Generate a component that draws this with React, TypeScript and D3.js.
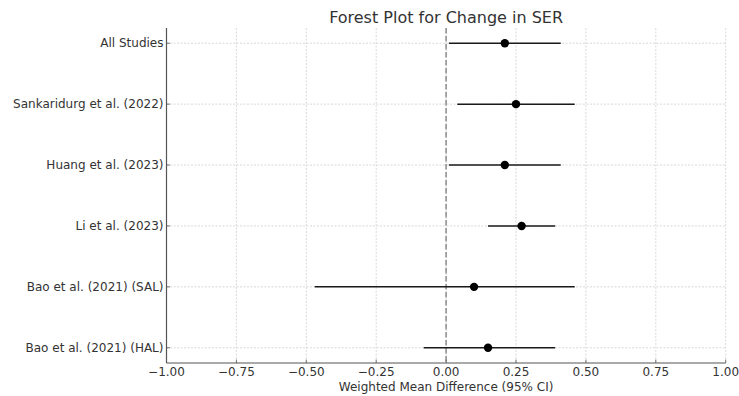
import { useEffect, useRef } from "react";
import * as d3 from "d3";

const studies = [
  "All Studies",
  "Sankaridurg et al. (2022)",
  "Huang et al. (2023)",
  "Li et al. (2023)",
  "Bao et al. (2021) (SAL)",
  "Bao et al. (2021) (HAL)",
];
const means = [0.21, 0.25, 0.21, 0.27, 0.1, 0.15];
const lower = [0.01, 0.04, 0.01, 0.15, -0.47, -0.08];
const upper = [0.41, 0.46, 0.41, 0.39, 0.46, 0.39];
const xTicks = [-1, -0.75, -0.5, -0.25, 0, 0.25, 0.5, 0.75, 1];

export default function App() {
  const svgRef = useRef<SVGSVGElement | null>(null);

  useEffect(() => {
    const width = 739;
    const height = 396;
    const margin = { top: 28, right: 14, bottom: 33, left: 166.5 };
    const font = "DejaVu Sans, sans-serif";

    const svg = d3
      .select(svgRef.current)
      .attr("width", width)
      .attr("height", height)
      .style("display", "block")
      .html("");

    const x = d3
      .scaleLinear()
      .domain([-1, 1])
      .range([margin.left, 725.7]);
    const n = studies.length;
    // index 0 at top, matplotlib style margins
    const y = d3
      .scaleLinear()
      .domain([n - 1 + 0.25, -0.25])
      .range([height - margin.bottom, margin.top]);
    const yOf = (i: number) => y(i);

    const g = svg.append("g");

    // grid
    g.selectAll("line.vgrid")
      .data(xTicks)
      .join("line")
      .attr("x1", (d) => x(d))
      .attr("x2", (d) => x(d))
      .attr("y1", margin.top)
      .attr("y2", height - margin.bottom)
      .attr("stroke", "#cfcfcf")
      .attr("stroke-width", 0.8)
      .attr("stroke-dasharray", "2,1.5");
    g.selectAll("line.hgrid")
      .data(studies)
      .join("line")
      .attr("x1", margin.left)
      .attr("x2", x(1))
      .attr("y1", (_, i) => yOf(i))
      .attr("y2", (_, i) => yOf(i))
      .attr("stroke", "#cfcfcf")
      .attr("stroke-width", 0.8)
      .attr("stroke-dasharray", "2,1.5");

    // zero line
    g.append("line")
      .attr("x1", x(0))
      .attr("x2", x(0))
      .attr("y1", margin.top)
      .attr("y2", height - margin.bottom)
      .attr("stroke", "#8c8c8c")
      .attr("stroke-width", 1.5)
      .attr("stroke-dasharray", "5.5,2.5");

    // error bars
    g.selectAll("line.ci")
      .data(studies)
      .join("line")
      .attr("x1", (_, i) => x(lower[i]))
      .attr("x2", (_, i) => x(upper[i]))
      .attr("y1", (_, i) => yOf(i))
      .attr("y2", (_, i) => yOf(i))
      .attr("stroke", "#1a1a1a")
      .attr("stroke-width", 1.5);
    g.selectAll("circle.pt")
      .data(studies)
      .join("circle")
      .attr("cx", (_, i) => x(means[i]))
      .attr("cy", (_, i) => yOf(i))
      .attr("r", 4.2)
      .attr("fill", "#000");

    // spines
    g.append("line")
      .attr("x1", margin.left)
      .attr("x2", margin.left)
      .attr("y1", margin.top)
      .attr("y2", height - margin.bottom)
      .attr("stroke", "#555")
      .attr("stroke-width", 1.2);
    g.append("line")
      .attr("x1", margin.left)
      .attr("x2", x(1))
      .attr("y1", height - margin.bottom)
      .attr("y2", height - margin.bottom)
      .attr("stroke", "#555")
      .attr("stroke-width", 1.2);

    // x ticks
    const xt = g
      .selectAll("g.xt")
      .data(xTicks)
      .join("g")
      .attr("transform", (d) => `translate(${x(d)},${height - margin.bottom})`);
    xt.append("line")
      .attr("y1", 0)
      .attr("y2", -3.5)
      .attr("stroke", "#555")
      .attr("stroke-width", 0.8);
    xt.append("text")
      .attr("y", 13)
      .attr("text-anchor", "middle")
      .attr("font-family", font)
      .attr("font-size", 12)
      .attr("fill", "#333")
      .text((d) => d3.format(".2f")(d).replace("-", "\u2212"));

    // y ticks
    const yt = g
      .selectAll("g.yt")
      .data(studies)
      .join("g")
      .attr("transform", (_, i) => `translate(${margin.left},${yOf(i)})`);
    yt.append("line")
      .attr("x1", 0)
      .attr("x2", 3.5)
      .attr("stroke", "#555")
      .attr("stroke-width", 0.8);
    yt.append("text")
      .attr("x", -3)
      .attr("dy", "0.35em")
      .attr("text-anchor", "end")
      .attr("font-family", font)
      .attr("font-size", 12)
      .attr("fill", "#333")
      .text((d) => d);

    // title + label
    svg
      .append("text")
      .attr("x", x(0))
      .attr("y", 23)
      .attr("text-anchor", "middle")
      .attr("font-family", font)
      .attr("font-size", 16)
      .attr("fill", "#333")
      .text("Forest Plot for Change in SER");
    svg
      .append("text")
      .attr("x", x(0))
      .attr("y", 391)
      .attr("text-anchor", "middle")
      .attr("font-family", font)
      .attr("font-size", 12)
      .attr("fill", "#333")
      .text("Weighted Mean Difference (95% CI)");
  }, []);

  return <svg ref={svgRef} style={{ position: "absolute", left: 0, top: 0 }}></svg>;
}
